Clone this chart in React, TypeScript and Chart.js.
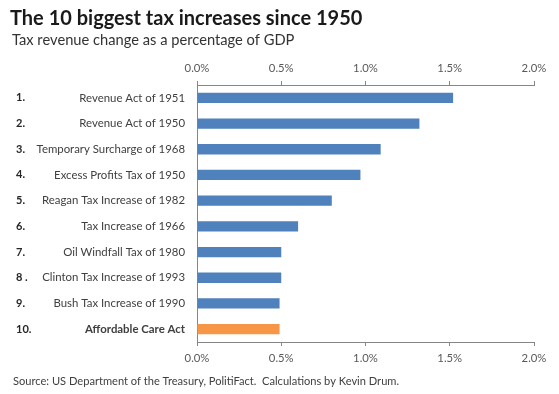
import React, { useEffect, useRef } from "react";
import { Chart, registerables } from "chart.js";

Chart.register(...registerables);

const titleText = "The 10 biggest tax increases since 1950";
const subtitleText = "Tax revenue change as a percentage of GDP";
const sourceText = "Source: US Department of the Treasury, PolitiFact.  Calculations by Kevin Drum.";

const ranks = ["1.", "2.", "3.", "4.", "5.", "6.", "7.", "8 .", "9.", "10."];
const categories = [
  "Revenue Act of 1951",
  "Revenue Act of 1950",
  "Temporary Surcharge of 1968",
  "Excess Profits Tax of 1950",
  "Reagan Tax Increase of 1982",
  "Tax Increase of 1966",
  "Oil Windfall Tax of 1980",
  "Clinton Tax Increase of 1993",
  "Bush Tax Increase of 1990",
  "Affordable Care Act",
];
const values = [1.52, 1.32, 1.09, 0.97, 0.8, 0.6, 0.5, 0.5, 0.49, 0.49];
const highlighted = [false, false, false, false, false, false, false, false, false, true];
const axisMin = 0;
const axisMax = 2;
const axisStep = 0.5;

const FONT = "Lato, 'Noto Sans', sans-serif";
const BLUE = "#4F81BD";
const ORANGE = "#F79646";
const AXIS = "#868686";

const textPlugin = {
  id: "texts",
  afterDraw(chart: any) {
    const ctx = chart.ctx;
    ctx.save();
    ctx.textAlign = "left";
    ctx.textBaseline = "alphabetic";
    ctx.fillStyle = "#1a1a1a";
    ctx.font = `bold 20px ${FONT}`;
    ctx.fillText(titleText, 10, 25);
    ctx.fillStyle = "#333333";
    ctx.font = `14.7px ${FONT}`;
    ctx.fillText(subtitleText, 12, 45);
    ctx.fillStyle = "#404040";
    ctx.font = `11.1px ${FONT}`;
    ctx.fillText(sourceText, 13, 385);
    const y = chart.scales.y;
    ctx.font = `bold 11px ${FONT}`;
    ctx.fillStyle = "#262626";
    ctx.textBaseline = "middle";
    ranks.forEach((r, i) => {
      ctx.fillText(r, 16, y.getPixelForValue(i));
    });
    ctx.restore();
  },
};

export default function App() {
  const ref = useRef<HTMLCanvasElement | null>(null);
  useEffect(() => {
    document.body.style.margin = "0";
    const canvas = ref.current;
    if (!canvas) return;
    const xAxis = (position: string) => ({
      type: "linear",
      position,
      min: axisMin,
      max: axisMax,
      afterFit: (s: any) => {
        s.height = 22;
      },
      ticks: {
        stepSize: axisStep,
        padding: 6,
        color: "#595959",
        font: { family: FONT, size: 11.3 },
        callback: (v: any) => Number(v).toFixed(1) + "%",
      },
      grid: {
        drawOnChartArea: false,
        drawTicks: true,
        tickLength: 4,
        color: AXIS,
      },
      border: { display: true, color: AXIS },
    });
    const chart = new Chart(canvas, {
      type: "bar",
      data: {
        labels: categories,
        datasets: [
          {
            data: values,
            backgroundColor: highlighted.map((h) => (h ? ORANGE : BLUE)),
            barPercentage: 0.4,
            categoryPercentage: 1,
            xAxisID: "x",
            yAxisID: "y",
          },
        ],
      },
      options: {
        indexAxis: "y",
        responsive: false,
        animation: false,
        devicePixelRatio: 1,
        layout: { padding: { left: 0, right: 25, top: 63, bottom: 30 } },
        plugins: {
          legend: { display: false },
          tooltip: { enabled: false },
          title: { display: false },
        },
        scales: {
          x: xAxis("bottom") as any,
          x2: xAxis("top") as any,
          y: {
            type: "category",
            afterFit: (s: any) => {
              s.width = 197;
            },
            ticks: {
              padding: 12,
              color: "#404040",
              font: (c: any) => ({
                family: FONT,
                size: 11.4,
                weight: highlighted[c.index] ? "bold" : "normal",
              }),
            },
            grid: { drawOnChartArea: false, drawTicks: false, color: AXIS },
            border: { display: true, color: AXIS },
          },
        },
      } as any,
      plugins: [textPlugin],
    });
    return () => chart.destroy();
  }, []);
  return (
    <div style={{ width: 559, height: 394 }}>
      <canvas ref={ref} width={559} height={394} style={{ display: "block" }} />
    </div>
  );
}
